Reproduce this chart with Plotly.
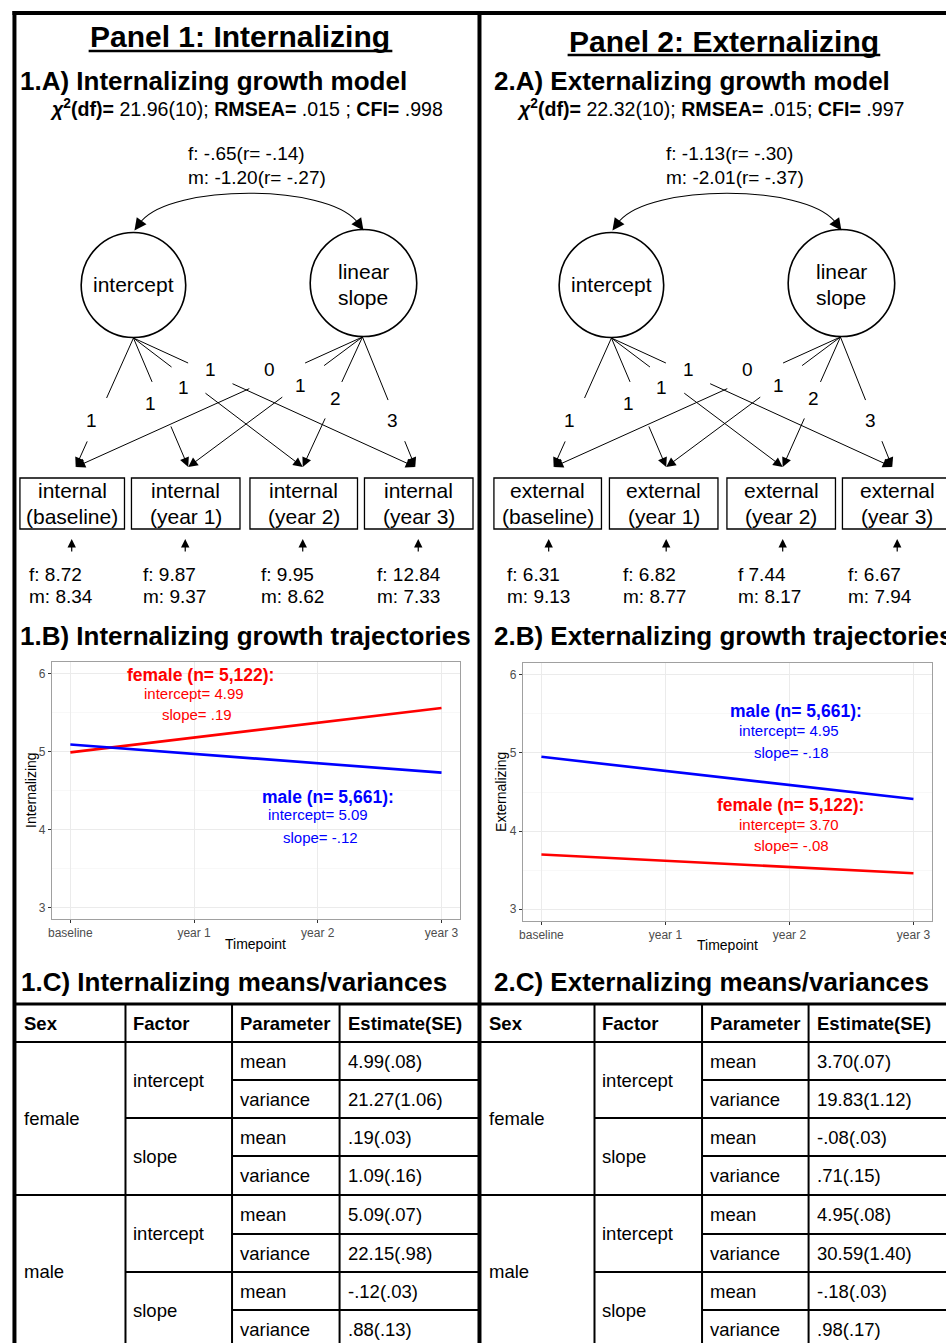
import plotly.graph_objects as go

W, H = 946, 1343
FONT = "Liberation Sans, Arial, Helvetica, sans-serif"


def X(p):
    return p / W


def Y(p):
    return 1 - p / H


# ---------------- data ----------------
timepoints = ["baseline", "year 1", "year 2", "year 3"]
time_index = [0, 1, 2, 3]
y_tick_values = [3, 4, 5, 6]
y_minor_values = [3.5, 4.5, 5.5]

int_female_traj = [4.99, 5.18, 5.37, 5.56]
int_male_traj = [5.09, 4.97, 4.85, 4.73]
ext_female_traj = [3.70, 3.62, 3.54, 3.46]
ext_male_traj = [4.95, 4.77, 4.59, 4.41]

int_female_text = ["female (n= 5,122):", "intercept= 4.99", "slope= .19"]
int_male_text = ["male (n= 5,661):", "intercept= 5.09", "slope= -.12"]
ext_male_text = ["male (n= 5,661):", "intercept= 4.95", "slope= -.18"]
ext_female_text = ["female (n= 5,122):", "intercept= 3.70", "slope= -.08"]

panel_titles = ["Panel 1: Internalizing", "Panel 2: Externalizing"]
section_a = ["1.A) Internalizing growth model", "2.A) Externalizing growth model"]
section_b = ["1.B) Internalizing growth trajectories", "2.B) Externalizing growth trajectories"]
section_c = ["1.C) Internalizing means/variances", "2.C) Externalizing means/variances"]
y_titles = ["Internalizing", "Externalizing"]

int_fit = "<b><i>χ</i><sup>2</sup>(df)=</b> 21.96(10); <b>RMSEA=</b> .015 ; <b>CFI=</b> .998"
ext_fit = "<b><i>χ</i><sup>2</sup>(df)=</b> 22.32(10); <b>RMSEA=</b> .015; <b>CFI=</b> .997"

int_cov = ["f: -.65(r= -.14)", "m: -1.20(r= -.27)"]
ext_cov = ["f: -1.13(r= -.30)", "m: -2.01(r= -.37)"]

intercept_loadings = ["1", "1", "1", "1"]
slope_loadings = ["0", "1", "2", "3"]

box_time_labels = ["(baseline)", "(year 1)", "(year 2)", "(year 3)"]
int_resid_f = ["f: 8.72", "f: 9.87", "f: 9.95", "f: 12.84"]
int_resid_m = ["m: 8.34", "m: 9.37", "m: 8.62", "m: 7.33"]
ext_resid_f = ["f: 6.31", "f: 6.82", "f 7.44", "f: 6.67"]
ext_resid_m = ["m: 9.13", "m: 8.77", "m: 8.17", "m: 7.94"]

table_header = ["Sex", "Factor", "Parameter", "Estimate(SE)"]
table_sex = ["female", "male"]
table_factor = ["intercept", "slope"]
table_param = ["mean", "variance"]
int_estimates = ["4.99(.08)", "21.27(1.06)", ".19(.03)", "1.09(.16)",
                 "5.09(.07)", "22.15(.98)", "-.12(.03)", ".88(.13)"]
ext_estimates = ["3.70(.07)", "19.83(1.12)", "-.08(.03)", ".71(.15)",
                 "4.95(.08)", "30.59(1.40)", "-.18(.03)", ".98(.17)"]

# ---------------- helpers ----------------
shapes = []
annotations = []


def seg(x0, y0, x1, y1, w=1.0, color="black"):
    shapes.append(dict(type="line", xref="paper", yref="paper",
                       x0=X(x0), y0=Y(y0), x1=X(x1), y1=Y(y1),
                       line=dict(color=color, width=w)))


def rect(x0, y0, x1, y1, w=1.3):
    shapes.append(dict(type="rect", xref="paper", yref="paper",
                       x0=X(x0), y0=Y(y1), x1=X(x1), y1=Y(y0),
                       line=dict(color="black", width=w)))


def circle(cx, cy, r, w=1.6):
    shapes.append(dict(type="circle", xref="paper", yref="paper",
                       x0=X(cx - r), x1=X(cx + r), y0=Y(cy + r), y1=Y(cy - r),
                       line=dict(color="black", width=w)))


def txt(x, y, s, size, color="black", anchor="center", angle=0, xref="paper", yref="paper"):
    if xref == "paper":
        x = X(x)
    if yref == "paper":
        y = Y(y)
    annotations.append(dict(xref=xref, yref=yref, x=x, y=y, text=s, showarrow=False,
                            font=dict(family=FONT, size=size, color=color),
                            xanchor=anchor, yanchor="middle", textangle=angle,
                            borderpad=0, borderwidth=0))


def arrow(hx, hy, tx, ty, size=1.6, width=1.0):
    annotations.append(dict(xref="paper", yref="paper", x=X(hx), y=Y(hy),
                            ax=tx - hx, ay=ty - hy, text="", showarrow=True,
                            arrowhead=2, arrowsize=size, arrowwidth=width,
                            arrowcolor="black", standoff=0, startstandoff=0))


# ---------------- frame ----------------
seg(8.5, 13, 950, 13, 4)
seg(10.5, 11, 10.5, 1350, 4)
seg(477.5, 11, 477.5, 1350, 4)

# ---------------- section A: path diagrams ----------------
int_paths_geom = [(0.465, 0.79, (88, 420)), (0.34, 0.674, (147, 403)),
                  (0.225, 0.419, (180, 388)), (0.194, 0.349, (207, 369))]
slope_paths_geom = [(0.2, 0.392, (267, 369)), (0.22, 0.454, (298, 385)),
                    (0.346, 0.615, (333, 398)), (0.485, 0.79, (390, 420))]


def draw_model(dx, title, title_y, ul, header, fit, cov, measure, box_x, target_x,
               up_x, resid_x, resid_f, resid_m):
    txt(237.5 + dx - (0 if dx == 0 else -5.5), title_y, f"<b>{title}</b>", 30)
    seg(ul[0], title_y + 14, ul[1], title_y + 14, 2.6)
    txt(16 + dx - (0 if dx == 0 else 4), 81, f"<b>{header}</b>", 26, anchor="left")
    txt(244 + dx - (0 if dx == 0 else 15), 108, fit, 19.6)
    txt(185 + dx, 154, cov[0], 19, anchor="left")
    txt(185 + dx, 177, cov[1], 19, anchor="left")

    # latent factors
    ic = (130 + dx, 285)
    sc = (361 + dx, 283)
    circle(ic[0], ic[1], 52.5)
    circle(sc[0], sc[1], 53.5)
    txt(ic[0], ic[1], "intercept", 21)
    txt(sc[0], 272, "linear", 21)
    txt(sc[0], 298, "slope", 21)

    # covariance arc
    ax0, ax1 = 138 + dx, 354 + dx
    path = (f"M {X(ax0)},{Y(221)} C {X(170 + dx)},{Y(184)} "
            f"{X(322 + dx)},{Y(184)} {X(ax1)},{Y(221)}")
    shapes.append(dict(type="path", xref="paper", yref="paper", path=path,
                       line=dict(color="black", width=1.1)))
    arrow(131 + dx, 230.5, ax0, 221, size=2.2, width=1.1)
    arrow(361 + dx, 230.5, ax1, 221, size=2.2, width=1.1)

    # loadings
    for origin, geoms, labels in [((130 + dx, 338), int_paths_geom, intercept_loadings),
                                  ((360 + dx, 337), slope_paths_geom, slope_loadings)]:
        for k, (t0, t1, lab_xy) in enumerate(geoms):
            tx, ty = target_x[k], 467
            vx, vy = tx - origin[0], ty - origin[1]
            p0 = (origin[0] + t0 * vx, origin[1] + t0 * vy)
            p1 = (origin[0] + t1 * vx, origin[1] + t1 * vy)
            seg(origin[0], origin[1], p0[0], p0[1], 1.0)
            arrow(tx, ty, p1[0], p1[1], size=1.9, width=1.0)
            txt(lab_xy[0] + dx, lab_xy[1], labels[k], 19)

    # observed boxes
    for k in range(4):
        x0, x1 = box_x[k]
        rect(x0, 478, x1, 529)
        cx = (x0 + x1) / 2
        txt(cx, 491, measure, 21)
        txt(cx, 516, box_time_labels[k], 21)
        arrow(up_x[k], 539, up_x[k], 553, size=1.4, width=1.2)
        txt(resid_x[k], 574, resid_f[k], 19, anchor="left")
        txt(resid_x[k], 597, resid_m[k], 19, anchor="left")


draw_model(0, panel_titles[0], 37, (85, 390), section_a[0], int_fit, int_cov, "internal",
           [(16, 121), (128, 237), (247, 355), (362, 471)], [72, 185, 300, 413],
           [68, 182, 300, 416], [25, 140, 258, 375], int_resid_f, int_resid_m)
draw_model(480, panel_titles[1], 41, (566, 880), section_a[1], ext_fit, ext_cov, "external",
           [(492, 600), (608, 717), (726, 835), (842, 952)], [552, 665, 782, 892],
           [547, 665, 782, 897], [505, 622, 737, 848], ext_resid_f, ext_resid_m)

# ---------------- section B: trajectory plots ----------------
txt(16, 636, f"<b>{section_b[0]}</b>", 26, anchor="left")
txt(492, 636, f"<b>{section_b[1]}</b>", 26, anchor="left")

fig = go.Figure()
for xa, ya, fem, mal in [("x", "y", int_female_traj, int_male_traj),
                         ("x2", "y2", ext_female_traj, ext_male_traj)]:
    fig.add_trace(go.Scatter(x=time_index, y=fem, mode="lines", xaxis=xa, yaxis=ya,
                             line=dict(color="#FF0000", width=2.6), hoverinfo="skip"))
    fig.add_trace(go.Scatter(x=time_index, y=mal, mode="lines", xaxis=xa, yaxis=ya,
                             line=dict(color="#0000FF", width=2.6), hoverinfo="skip"))


# group labels (data coordinates)
def group_label(xr, yr, texts, color, pos):
    (x0, y0), (x1, y1), (x2, y2) = pos
    txt(x0, y0, f"<b>{texts[0]}</b>", 17.5, color=color, xref=xr, yref=yr)
    txt(x1, y1, texts[1], 15, color=color, xref=xr, yref=yr)
    txt(x2, y2, texts[2], 15, color=color, xref=xr, yref=yr)


group_label("x", "y", int_female_text, "#FF0000", [(1.05, 5.98), (1.0, 5.75), (1.02, 5.47)])
group_label("x", "y", int_male_text, "#0000FF", [(2.08, 4.42), (2.0, 4.19), (2.02, 3.90)])
group_label("x2", "y2", ext_male_text, "#0000FF", [(2.05, 5.54), (2.0, 5.29), (2.02, 5.01)])
group_label("x2", "y2", ext_female_text, "#FF0000", [(2.01, 4.33), (2.0, 4.09), (2.02, 3.81)])

txt(253, 944, "Timepoint", 14)
txt(727, 945, "Timepoint", 14)
txt(27, 790, y_titles[0], 14, angle=-90)
txt(499, 792, y_titles[1], 14, angle=-90)

axis_x = dict(range=[-0.15, 3.15], tickmode="array", tickvals=time_index, ticktext=timepoints,
              showgrid=True, gridcolor="#EBEBEB", gridwidth=1, zeroline=False,
              showline=True, mirror=True, linecolor="#a0a0a0", linewidth=1,
              ticks="outside", ticklen=3, tickwidth=1, tickcolor="#333333",
              tickfont=dict(family=FONT, size=12, color="#4D4D4D"), fixedrange=True)
axis_y = dict(range=[2.85, 6.15], tickmode="array", tickvals=y_tick_values,
              showgrid=True, gridcolor="#EBEBEB", gridwidth=1, zeroline=False,
              showline=True, mirror=True, linecolor="#a0a0a0", linewidth=1,
              ticks="outside", ticklen=3, tickwidth=1, tickcolor="#333333",
              tickfont=dict(family=FONT, size=12, color="#4D4D4D"), fixedrange=True,
              minor=dict(tickmode="array", tickvals=y_minor_values, showgrid=True,
                         gridcolor="#F4F4F4", gridwidth=0.6, ticks=""))

# ---------------- section C: tables ----------------
txt(17, 982, f"<b>{section_c[0]}</b>", 26, anchor="left")
txt(492, 982, f"<b>{section_c[1]}</b>", 26, anchor="left")

row_y = [1004, 1042, 1080, 1118, 1156, 1195, 1234, 1272, 1310, 1348]


def draw_table(x_left, col_x, x_right, estimates):
    seg(x_left, row_y[0], x_right, row_y[0], 3)
    seg(x_left, row_y[1], x_right, row_y[1], 2)
    for k in range(7):
        yb = row_y[2 + k]
        if k == 3:
            xs = x_left
        elif k % 2 == 1:
            xs = col_x[0]
        else:
            xs = col_x[1]
        seg(xs, yb, x_right, yb, 2)
    for cx in col_x:
        seg(cx, row_y[0], cx, 1350, 2)
    starts = [x_left] + col_x
    hy = (row_y[0] + row_y[1]) / 2
    for j, h in enumerate(table_header):
        txt(starts[j] + 8, hy, f"<b>{h}</b>", 18.5, anchor="left")
    for s in range(2):
        ys = (row_y[1 + 4 * s] + row_y[5 + 4 * s]) / 2
        txt(starts[0] + 8, ys, table_sex[s], 18.5, anchor="left")
        for f in range(2):
            r0 = 4 * s + 2 * f
            yf = (row_y[1 + r0] + row_y[3 + r0]) / 2
            txt(starts[1] + 8, yf, table_factor[f], 18.5, anchor="left")
            for p in range(2):
                r = r0 + p
                yr = (row_y[1 + r] + row_y[2 + r]) / 2
                txt(starts[2] + 8, yr, table_param[p], 18.5, anchor="left")
                txt(starts[3] + 8, yr, estimates[r], 18.5, anchor="left")


draw_table(12, [122, 229, 337], 477, int_estimates)
draw_table(479, [593, 701, 808], 950, ext_estimates)

fig.update_layout(
    width=W, height=H, margin=dict(l=0, r=0, t=0, b=0),
    paper_bgcolor="white", plot_bgcolor="white", showlegend=False,
    font=dict(family=FONT, color="black"),
    xaxis=dict(axis_x, domain=[X(48), X(458)], anchor="y"),
    yaxis=dict(axis_y, domain=[Y(919), Y(662)], anchor="x"),
    xaxis2=dict(axis_x, domain=[X(521), X(932)], anchor="y2"),
    yaxis2=dict(axis_y, domain=[Y(921), Y(663)], anchor="x2"),
    shapes=shapes, annotations=annotations,
)

fig.write_html(
    "out.html",
    config={"displayModeBar": False, "staticPlot": True},
    post_script="document.body.style.margin='0';document.body.style.overflow='hidden';",
)
